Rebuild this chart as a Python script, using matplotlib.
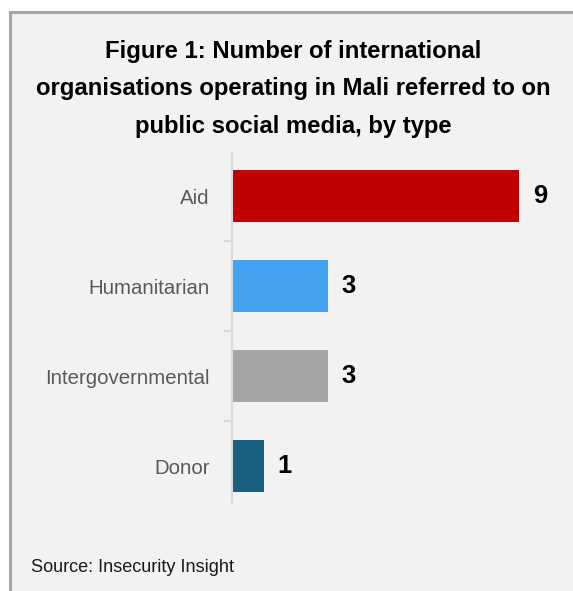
import matplotlib
matplotlib.use('Agg')
import matplotlib.pyplot as plt
from matplotlib import font_manager
from matplotlib.patches import Rectangle

categories = ['Aid', 'Humanitarian', 'Intergovernmental', 'Donor']
counts = [9, 3, 3, 1]
bar_colors = ['#C00000', '#42A2F1', '#A6A6A6', '#185F80']
title = ('Figure 1: Number of international\n'
         'organisations operating in Mali referred to on\n'
         'public social media, by type')
source = 'Source: Insecurity Insight'

# narrow font if we have it, otherwise plain Liberation Sans scaled down
try:
    font_manager.findfont('Liberation Sans Narrow', fallback_to_default=False)
    fam = ['Liberation Sans Narrow', 'DejaVu Sans']
    k = 1.0
except Exception:
    fam = ['Liberation Sans', 'DejaVu Sans']
    k = 0.84
plt.rcParams['font.family'] = fam

W, H = 573, 591
fig = plt.figure(figsize=(W / 100, H / 100), dpi=100)
fig.patch.set_facecolor('white')

# grey framed panel
fig.patches.append(Rectangle((10 / W, -0.1), 1.2, 1 - 12 / H + 0.1,
                             transform=fig.transFigure, facecolor='#F2F2F2',
                             edgecolor='#A6A6A6', linewidth=2.2, zorder=-5))

ax = fig.add_axes([232 / W, (H - 502) / H, 319 / W, 349 / H])
ax.set_zorder(2)
ax.set_facecolor('none')
y = list(range(len(categories)))
ax.barh(y, counts, height=0.58, color=bar_colors, zorder=2)
ax.set_xlim(0, 10)
ax.set_ylim(3.40, -0.48)

for yi, v in zip(y, counts):
    ax.annotate(str(v), (v, yi), xytext=(10, 0), textcoords='offset points',
                ha='left', va='center', fontsize=22 * k, fontweight='bold',
                color='black')

for s in ['top', 'right', 'bottom']:
    ax.spines[s].set_visible(False)
ax.spines['left'].set_color('#D9D9D9')
ax.spines['left'].set_linewidth(1.5)
ax.set_xticks([])
ax.set_yticks(y)
ax.set_yticklabels(categories, fontsize=17.5 * k, color='#595959')
ax.set_yticks([0.5, 1.5, 2.5], minor=True)
ax.tick_params(axis='y', which='major', length=0, pad=16)
ax.tick_params(axis='y', which='minor', length=6, width=1.5, color='#D9D9D9',
               direction='out')

fig.text(293 / W, 1 - 89 / H, title, ha='center', va='center',
         fontsize=20.5 * k, fontweight='bold', linespacing=1.25 / k * 1.2,
         color='black')
fig.text(31 / W, 1 - 572 / H, source, ha='left', va='baseline',
         fontsize=15.6 * k, color='#1A1A1A')

fig.savefig('out.png', dpi=100, facecolor=fig.get_facecolor())
